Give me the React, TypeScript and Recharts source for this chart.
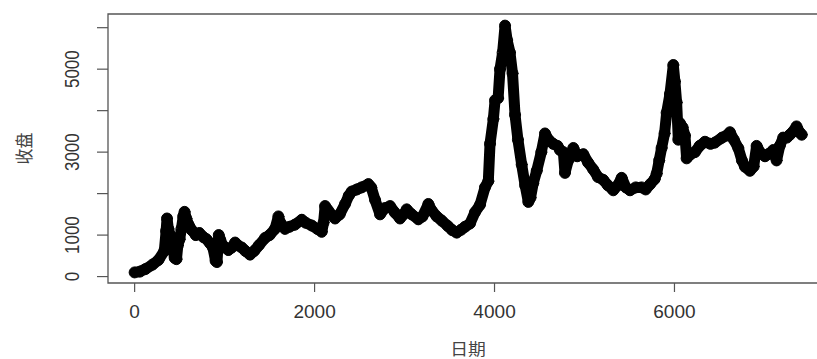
import { LineChart, Line, XAxis, YAxis, ReferenceArea } from 'recharts';

// trading-day index and close price
const dayIndex = [
  0, 60, 120, 200, 265, 330, 350, 360, 375, 395, 420, 445, 465, 480, 500, 520, 540, 555, 575, 600,
  635, 680, 720, 765, 800, 839, 870, 900, 915, 935, 950, 980, 1010, 1042, 1080, 1117, 1150, 1191, 1230, 1283,
  1330, 1380, 1450, 1500, 1560, 1598, 1620, 1672, 1720, 1780, 1858, 1900, 1969, 2030, 2080, 2100, 2117, 2150, 2228, 2280,
  2339, 2380, 2413, 2470, 2524, 2598, 2630, 2672, 2728, 2780, 2839, 2890, 2950, 2990, 3024, 3080, 3154, 3200, 3265, 3300,
  3358, 3413, 3480, 3530, 3580, 3630, 3672, 3728, 3783, 3839, 3894, 3931, 3950, 3987, 4006, 4040, 4061, 4090, 4117, 4140,
  4172, 4200, 4228, 4260, 4302, 4340, 4376, 4400, 4430, 4469, 4520, 4561, 4600, 4653, 4700, 4728, 4765, 4783, 4820, 4876,
  4920, 4987, 5040, 5098, 5150, 5209, 5260, 5320, 5370, 5413, 5460, 5506, 5570, 5635, 5680, 5728, 5780, 5802, 5830, 5857,
  5890, 5913, 5950, 5987, 6005, 6024, 6043, 6061, 6090, 6117, 6135, 6180, 6228, 6280, 6339, 6400, 6450, 6530, 6580, 6617,
  6660, 6709, 6750, 6783, 6839, 6880, 6913, 6950, 7006, 7050, 7098, 7135, 7170, 7209, 7250, 7283, 7320, 7357, 7390, 7415,
];

const closePrice = [
  100, 120, 180, 290, 400, 620, 1100, 1400, 1150, 1000, 700, 450, 420, 750, 900, 1150, 1450, 1560, 1400, 1250,
  1120, 1000, 1050, 950, 900, 800, 700, 380, 350, 1000, 900, 750, 700, 640, 700, 820, 750, 700, 620, 530,
  620, 750, 930, 1000, 1150, 1450, 1300, 1150, 1200, 1250, 1370, 1300, 1230, 1150, 1080, 1300, 1700, 1600, 1400, 1500,
  1750, 1950, 2050, 2100, 2150, 2230, 2150, 1850, 1500, 1650, 1700, 1550, 1400, 1500, 1620, 1500, 1380, 1450, 1750, 1600,
  1450, 1350, 1220, 1120, 1060, 1130, 1200, 1280, 1550, 1730, 2150, 2300, 3200, 3800, 4250, 4300, 5000, 5400, 6050, 5700,
  5400, 4900, 3900, 3300, 2700, 2200, 1800, 1900, 2250, 2550, 3000, 3450, 3300, 3200, 3150, 3050, 3000, 2500, 2800, 3100,
  2900, 2950, 2750, 2580, 2400, 2330, 2200, 2080, 2200, 2380, 2150, 2080, 2150, 2150, 2100, 2220, 2350, 2480, 2800, 3100,
  3450, 3950, 4400, 5100, 4700, 4200, 3300, 3700, 3600, 3400, 2850, 2950, 3000, 3150, 3250, 3200, 3230, 3350, 3400, 3480,
  3300, 3100, 2800, 2650, 2550, 2650, 3150, 3000, 2900, 2960, 3050, 2800, 3150, 3350, 3350, 3420, 3500, 3620, 3480, 3420,
];

const xTicks = [0, 2000, 4000, 6000];
const yTicks = [0, 1000, 2000, 3000, 4000, 5000, 6000];
const yLabelled = [0, 1000, 3000, 5000];

const X_DOMAIN = [-296, 7712];
const Y_DOMAIN = [-155, 6330];

const chartData = dayIndex.map((d, i) => ({ day: d, close: closePrice[i] }));

const FONT = '"Liberation Sans", Arial, sans-serif';
const CJK = '"Noto Sans CJK SC", sans-serif';

function XTick({ x, payload }: any) {
  return (
    <text
      transform={`translate(${x}, 311.7) scale(1.06, 1)`}
      textAnchor="middle"
      dominantBaseline="central"
      fontSize={18}
      fontFamily={FONT}
      fill="#333"
    >
      {payload.value}
    </text>
  );
}

function YTick({ y, payload }: any) {
  if (!yLabelled.includes(payload.value)) return <g />;
  return (
    <text
      transform={`translate(72.5, ${y}) scale(1.15, 1) rotate(-90)`}
      textAnchor="middle"
      dominantBaseline="central"
      fontSize={17}
      fontFamily={FONT}
      fill="#333"
    >
      {payload.value}
    </text>
  );
}

export default function App() {
  return (
    <div
      style={{
        position: 'fixed',
        top: 0,
        left: 0,
        width: 817,
        height: 359,
        overflow: 'hidden',
        background: '#fff',
      }}
    >
      <LineChart width={840} height={359} data={chartData} margin={{ top: 14, right: 11.5, bottom: 0, left: 0 }}>
        <XAxis
          type="number"
          dataKey="day"
          domain={X_DOMAIN}
          allowDataOverflow
          ticks={xTicks}
          axisLine={false}
          tickLine={{ stroke: '#555', strokeWidth: 1.2 }}
          tickSize={9}
          height={76}
          tick={<XTick />}
        />
        <YAxis
          type="number"
          domain={Y_DOMAIN}
          allowDataOverflow
          ticks={yTicks}
          axisLine={false}
          tickLine={{ stroke: '#555', strokeWidth: 1.2 }}
          tickSize={11}
          width={108}
          tick={<YTick />}
        />
        <ReferenceArea
          x1={X_DOMAIN[0]}
          x2={X_DOMAIN[1]}
          y1={Y_DOMAIN[0]}
          y2={Y_DOMAIN[1]}
          fill="none"
          stroke="#555"
          strokeWidth={1.3}
          ifOverflow="visible"
        />
        <Line
          type="linear"
          dataKey="close"
          stroke="#000"
          strokeWidth={11}
          strokeLinejoin="round"
          strokeLinecap="round"
          dot={{ r: 5.5, stroke: '#000', strokeWidth: 1, fill: 'none' }}
          isAnimationActive={false}
        />
        <text
          transform="translate(23.3, 148.5) scale(1.15, 1) rotate(-90)"
          textAnchor="middle"
          dominantBaseline="central"
          fontSize={16}
          fontFamily={CJK}
          fill="#444"
        >
          收盘
        </text>
        <text
          transform="translate(468, 348.5) scale(1.15, 1)"
          textAnchor="middle"
          dominantBaseline="central"
          fontSize={15.5}
          fontFamily={CJK}
          fill="#444"
        >
          日期
        </text>
      </LineChart>
    </div>
  );
}
